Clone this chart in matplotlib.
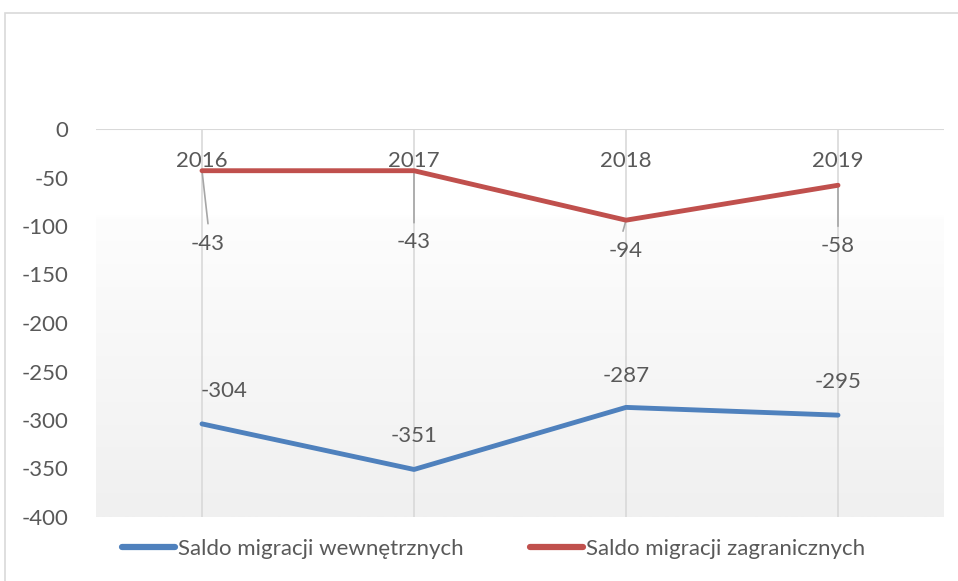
import matplotlib
matplotlib.use('Agg')
import matplotlib.pyplot as plt
from matplotlib.colors import LinearSegmentedColormap
from matplotlib.patches import Rectangle
import numpy as np

# data
years = ['2016', '2017', '2018', '2019']
saldo_wewn = [-304, -351, -287, -295]
saldo_zagr = [-43, -43, -94, -58]
y_ticks = [0, -50, -100, -150, -200, -250, -300, -350, -400]

# label offsets in pixels (dx, dy) -- layout only
zagr_label_off = [(6, -73), (0, -71), (0, -31), (0, -61)]
zagr_leader_end = [(6, -53), (0, -52), (-3, -11), (0, -41)]
wewn_label_off = [(22, 33), (0, 33), (0, 31), (0, 33)]

BLUE = '#4F81BD'
RED = '#C0504D'
TXT = '#595959'
GRID = '#d9d9d9'
FS = 16

plt.rcParams['font.family'] = ['Lato', 'DejaVu Sans']

fig = plt.figure(figsize=(9.58, 5.81), dpi=100)
fig.patch.set_facecolor('white')

# chart border
fig.patches.append(Rectangle((5 / 958, -0.1), 1.2, 1 - 13 / 581 + 0.1,
                             transform=fig.transFigure, fill=False,
                             edgecolor=GRID, linewidth=1.2))

ax = fig.add_axes([96 / 958, 1 - 517 / 581, 848 / 958, 388 / 581])
x = np.arange(len(years)) + 0.5
ax.set_xlim(0, len(years))
ax.set_ylim(-400, 0)

# gradient background of plot area
cmap = LinearSegmentedColormap.from_list('bg', [(0, '#ffffff'), (0.22, '#ffffff'),
                                                 (0.23, '#fdfdfd'), (1, '#f0f0f0')])
grad = np.linspace(0, 1, 256).reshape(-1, 1)
ax.imshow(grad, aspect='auto', cmap=cmap, extent=[0, len(years), -400, 0],
          origin='upper', zorder=0)

for s in ax.spines.values():
    s.set_visible(False)
ax.axhline(0, color=GRID, linewidth=1.5, zorder=1)
for xi in x:
    ax.axvline(xi, color=GRID, linewidth=1.2, zorder=1)

ax.set_yticks(y_ticks)
ax.set_yticklabels([str(t) for t in y_ticks])
ax.tick_params(axis='y', length=0, pad=20, labelsize=FS, labelcolor=TXT)
ax.set_xticks([])

# category labels sit just below the zero line
for xi, yr in zip(x, years):
    ax.text(xi, -33, yr, ha='center', va='center', fontsize=FS, color=TXT, zorder=3)

ax.plot(x, saldo_wewn, color=BLUE, linewidth=3.5, solid_capstyle='round',
        label='Saldo migracji wewnętrznych', zorder=4)
ax.plot(x, saldo_zagr, color=RED, linewidth=3.5, solid_capstyle='round',
        label='Saldo migracji zagranicznych', zorder=4)

for xi, v, off, lead in zip(x, saldo_zagr, zagr_label_off, zagr_leader_end):
    ax.annotate(str(v), (xi, v), xytext=(off[0] * 0.72, off[1] * 0.72),
                textcoords='offset points', ha='center', va='center',
                fontsize=FS, color=TXT, zorder=5)
    ax.annotate('', (xi, v), xytext=(lead[0] * 0.72, lead[1] * 0.72),
                textcoords='offset points',
                arrowprops=dict(arrowstyle='-', color='#a6a6a6', lw=1.2,
                                shrinkA=0, shrinkB=0), zorder=3)

for xi, v, off in zip(x, saldo_wewn, wewn_label_off):
    ax.annotate(str(v), (xi, v), xytext=(off[0] * 0.72, off[1] * 0.72),
                textcoords='offset points', ha='center', va='center',
                fontsize=FS, color=TXT, zorder=5)

leg = fig.legend(loc='center', bbox_to_anchor=(0.515, 1 - 549 / 581), ncol=2,
                 frameon=False, fontsize=FS, handlelength=2.4, handletextpad=0.1,
                 columnspacing=3.0, labelcolor=TXT)
for h in leg.get_lines():
    h.set_linewidth(4.5)

fig.savefig('out.png', dpi=100)
